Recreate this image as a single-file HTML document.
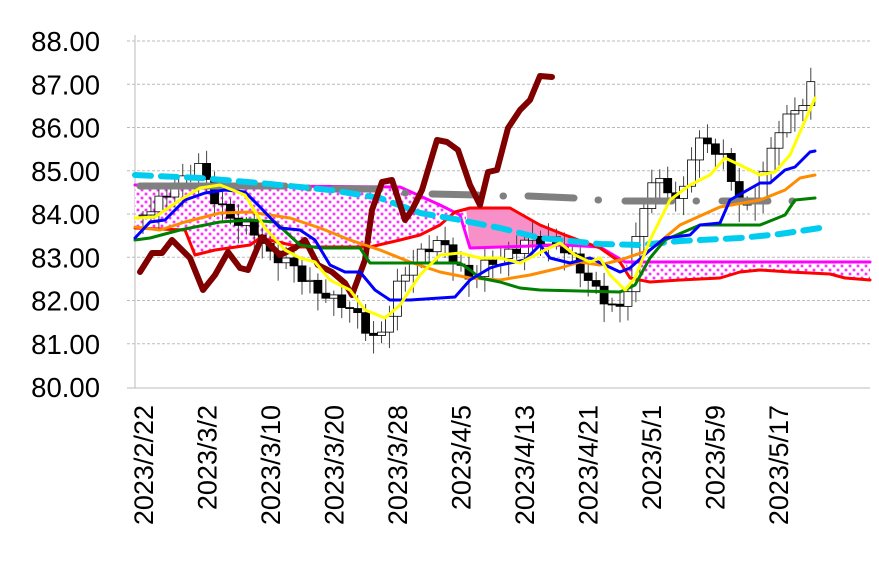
<!DOCTYPE html>
<html><head><meta charset="utf-8"><style>
html,body{margin:0;padding:0;background:#fff;}
svg{display:block;font-family:"Liberation Sans",sans-serif;}
</style></head><body>
<svg id="s" width="879" height="568" xmlns="http://www.w3.org/2000/svg">
<defs>
<pattern id="dots" width="8" height="8" patternUnits="userSpaceOnUse">
<rect width="8" height="8" fill="#fff"/>
<circle cx="2" cy="2" r="1.5" fill="#ff33ff"/>
<circle cx="6" cy="6" r="1.5" fill="#ff33ff"/>
</pattern>
</defs>
<g id="grid" stroke="#bbb" stroke-width="1" stroke-dasharray="3,2"></g>
<line x1="135" y1="35" x2="135" y2="388" stroke="#bbb"/>
<line x1="127" y1="388" x2="870" y2="388" stroke="#bbb"/>
<g id="ylab" font-size="27.5" text-anchor="end" fill="#000"></g>
<g id="xlab" font-size="27" fill="#000"></g>
<polygon fill="url(#dots)" points="135,185 400,187 440,205 460,215 466,240 466,208 455,212 440,225 420,235 400,240 370,247 300,247 260,238 250,245 215,250 195,255 185,230 135,228"/>
<polygon fill="#f790c8" points="466,208 510,208 540,225 565,235 600,248 565,245 470,248"/>
<polygon fill="url(#dots)" points="625,262 870,262 870,280 845,278 830,274 790,272 760,270 740,272 720,278 680,280 650,282 630,278"/>
<g id="candles"></g>
<g fill="none" stroke-linejoin="round" stroke-linecap="round">
<polyline stroke="#ff00ff" stroke-width="3" points="135,185 400,187 440,205 460,215 470,248 565,245 600,247 625,262 870,262"/>
<polyline stroke="#ff0000" stroke-width="3" points="135,228 185,230 195,255 215,250 250,245 260,238 300,247 370,247 400,240 420,235 440,225 455,212 470,208 510,208 540,225 565,235 600,248 620,262 630,278 650,282 680,280 720,278 740,272 760,270 790,272 830,274 845,278 870,280"/>
<g stroke="#808080" stroke-width="7">
<line x1="140" y1="186" x2="285" y2="186"/><line x1="308" y1="188" x2="308.5" y2="188"/>
<line x1="333" y1="189" x2="380" y2="189"/><line x1="405" y1="193" x2="405.5" y2="193"/>
<line x1="432" y1="194" x2="478" y2="195"/><line x1="503" y1="196" x2="503.5" y2="196"/>
<line x1="528" y1="196" x2="574" y2="198"/><line x1="598" y1="200" x2="598.5" y2="200"/>
<line x1="625" y1="201" x2="672" y2="201"/><line x1="696" y1="201" x2="696.5" y2="201"/>
<line x1="722" y1="201" x2="768" y2="201"/><line x1="792" y1="201" x2="792.5" y2="201"/>
</g>
<polyline stroke="#00ccf0" stroke-width="6" stroke-dasharray="16,10" points="135,175 200,178 260,183 330,190 380,198 420,213 460,220 500,228 540,238 600,244 640,245 680,241 740,238 780,234 820,228"/>
<polyline stroke="#800000" stroke-width="6" points="140,272 152,253 162,253 172,240 190,258 203,290 215,275 228,252 240,268 248,270 262,237 280,255 295,248 305,240 318,265 332,272 345,283 352,295 365,260 372,210 382,182 392,180 405,220 412,210 422,190 437,140 447,142 458,150 470,185 480,205 488,172 497,170 508,128 520,110 530,100 540,76 552,77"/>
<polyline stroke="#ff8c00" stroke-width="3" points="135,227 160,230 185,222 220,213 250,212 290,218 320,228 350,240 380,250 410,262 440,272 470,278 500,280 530,275 560,268 580,262 600,265 620,260 650,250 680,225 720,207 760,200 785,190 800,178 815,175"/>
<polyline stroke="#008000" stroke-width="3" points="135,240 150,238 180,230 220,222 250,220 275,222 300,245 320,248 360,248 370,263 460,263 470,270 480,278 500,282 520,288 540,290 620,292 635,285 650,258 665,240 700,225 760,225 785,215 795,200 815,198"/>
<polyline stroke="#0000ff" stroke-width="3" points="135,238 150,222 165,220 185,200 205,193 225,190 245,192 260,207 280,228 300,230 315,240 330,265 345,272 360,272 375,290 390,300 410,300 455,297 470,280 490,268 500,265 525,260 540,245 550,258 570,263 590,258 605,265 620,272 630,268 650,250 665,238 690,235 700,225 720,223 730,200 760,183 770,183 785,170 795,167 810,152 815,151"/>
<polyline stroke="#ffff00" stroke-width="3" points="135,218 155,217 180,200 200,188 220,185 245,195 265,228 285,250 300,258 315,262 330,280 350,290 365,310 385,318 400,305 420,275 440,255 460,253 480,258 500,258 520,263 545,250 560,243 575,255 590,262 600,258 610,275 625,290 635,278 650,240 670,200 690,185 710,175 725,158 740,165 760,175 775,172 790,155 815,98"/>
</g>
</svg>
<script>
(function(){
var NS="http://www.w3.org/2000/svg";
function el(t,a,p){var e=document.createElementNS(NS,t);for(var k in a)e.setAttribute(k,a[k]);p.appendChild(e);return e;}
var g=document.getElementById('grid'),yl=document.getElementById('ylab'),xl=document.getElementById('xlab');
for(var v=80;v<=88;v++){var y=41+(88-v)*43.25;if(v>80)el('line',{x1:127,y1:y,x2:870,y2:y},g);var t=el('text',{x:100,y:y+10},yl);t.textContent=v+'.00';}
var labs=['2023/2/22','2023/3/2','2023/3/10','2023/3/20','2023/3/28','2023/4/5','2023/4/13','2023/4/21','2023/5/1','2023/5/9','2023/5/17'];
labs.forEach(function(s,i){var x=143+i*63.5+10;var t=el('text',{x:0,y:0,'text-anchor':'end',transform:'translate('+x+',405) rotate(-90)'},xl);t.textContent=s;});
var key=[[143,215],[183,180],[199,165],[215,200],[231,218],[255,232],[270,255],[290,262],[300,275],[315,290],[330,298],[345,305],[360,318],[372,340],[385,330],[395,290],[410,265],[425,250],[440,240],[455,262],[470,280],[485,265],[500,258],[515,250],[530,238],[545,240],[560,245],[575,262],[590,283],[605,300],[615,310],[625,305],[635,245],[650,180],[665,185],[680,205],[695,140],[710,145],[725,160],[740,205],[750,210],[765,168],[780,125],[795,110],[805,100],[815,77]];
function interp(x){for(var i=0;i<key.length-1;i++){if(x<=key[i+1][0]){var a=key[i],b=key[i+1];return a[1]+(b[1]-a[1])*(x-a[0])/(b[0]-a[0]);}}return key[key.length-1][1];}
var cg=document.getElementById('candles');var prev=216;
for(var i=0;i<85;i++){var x=143+i*7.95;var c=interp(x)+Math.sin(i*2.3)*5;var o=prev;var tp=Math.min(o,c),bt=Math.max(o,c);
var h=tp-4-Math.abs(Math.sin(i*1.7))*10,l=bt+4+Math.abs(Math.cos(i*1.3))*14;
el('line',{x1:x,y1:h,x2:x,y2:l,stroke:'#444','stroke-width':1},cg);
el('rect',{x:x-4,y:tp,width:8,height:Math.max(1,bt-tp),fill:c>o?'#000':'#fff',stroke:'#000','stroke-width':0.8},cg);prev=c;}
})();
</script>
</body></html>
